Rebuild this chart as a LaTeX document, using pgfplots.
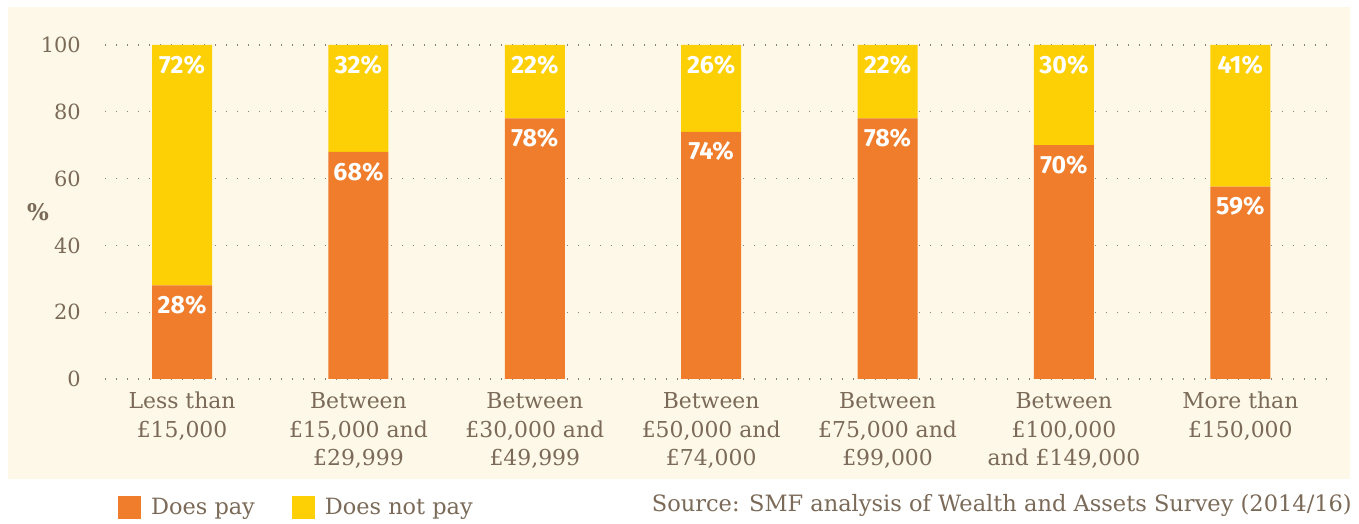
\documentclass[border=0pt]{standalone}
\usepackage{fontspec}
\setmainfont{DejaVu Serif}
\newfontfamily\barfont{Fira Sans}
\usepackage{pgfplots}
\pgfplotsset{compat=1.18}
\definecolor{cream}{HTML}{FEF8E8}
\definecolor{txt}{HTML}{7B6A58}
\definecolor{pay}{HTML}{EF7D2C}
\definecolor{nopay}{HTML}{FDD006}
\definecolor{gridc}{HTML}{8C8276}
\pgfplotstableread{
x y lab
0 28 28
1 68 68
2 78 78
3 74 74
4 78 78
5 70 70
6 57.6 59
}\paytable
\pgfplotstableread{
x y lab
0 72 72
1 32 32
2 22 22
3 26 26
4 22 22
5 30 30
6 42.4 41
}\nopaytable
\begin{document}
\begin{tikzpicture}[x=1bp,y=1bp]
\fill[white] (0,0) rectangle (1359,524);
\fill[cream] (8,45) rectangle (1350,517);
\begin{axis}[
  at={(105bp,145bp)}, anchor=south west,
  scale only axis, width=1223bp, height=334bp,
  xmin=-0.437, xmax=6.497, ymin=0, ymax=100,
  ybar stacked, bar width=60bp,
  axis line style={draw=none}, major tick length=0pt, tick style={draw=none},
  ytick={0,20,...,100},
  ymajorgrids, grid style={gridc, line width=1.3bp, dash pattern=on 1.3bp off 9.7bp},
  xtick={0,...,6},
  xticklabels={{Less than\\£15,000},{Between\\£15,000 and\\£29,999},{Between\\£30,000 and\\£49,999},{Between\\£50,000 and\\£74,000},{Between\\£75,000 and\\£99,000},{Between\\£100,000\\and £149,000},{More than\\£150,000}},
  xticklabel style={align=center, font=\fontsize{22}{29}\selectfont, text=txt, anchor=north, inner sep=0pt, yshift=-13bp},
  yticklabel style={font=\fontsize{21}{21}\selectfont, text=txt, anchor=east, inner sep=0pt, xshift=-24bp},
  /pgf/number format/assume math mode=true,
  ylabel={\textbf{\%}},
  every axis y label/.style={at={(axis description cs:0,0.5)}, anchor=center, xshift=-67bp, font=\fontsize{23}{23}\selectfont, text=txt},
  point meta=explicit symbolic,
  visualization depends on={rawy \as \segy},
  nodes near coords={\pgfplotspointmeta\%},
  every node near coord/.append style={anchor=north, yshift={\segy*1.67bp-10bp}, text=white, inner sep=0pt, font=\barfont\bfseries\fontsize{25}{25}\selectfont},
  legend style={draw=none, fill=none, legend columns=-1, at={(axis description cs:0,0)}, anchor=west, xshift=13bp, yshift=-128.5bp, font=\fontsize{22.5}{22.5}\selectfont, text=txt, inner sep=0pt, /tikz/every odd column/.append style={column sep=8bp}, /tikz/every even column/.append style={column sep=35bp}},
]
\addplot[fill=pay, draw=none, legend image code/.code={\fill[pay] (0bp,-11.5bp) rectangle (23bp,11.5bp);}] table[x=x, y=y, meta=lab] {\paytable};
\addlegendentry{Does pay}
\addplot[fill=nopay, draw=none, legend image code/.code={\fill[nopay] (0bp,-11.5bp) rectangle (23bp,11.5bp);}] table[x=x, y=y, meta=lab] {\nopaytable};
\addlegendentry{Does not pay}
\end{axis}
\node[anchor=base east, text=txt, font=\fontsize{22.6}{22.6}\selectfont, inner sep=0pt] at (1352,12) {Source: SMF analysis of Wealth and Assets Survey (2014/16)};
\end{tikzpicture}
\end{document}
